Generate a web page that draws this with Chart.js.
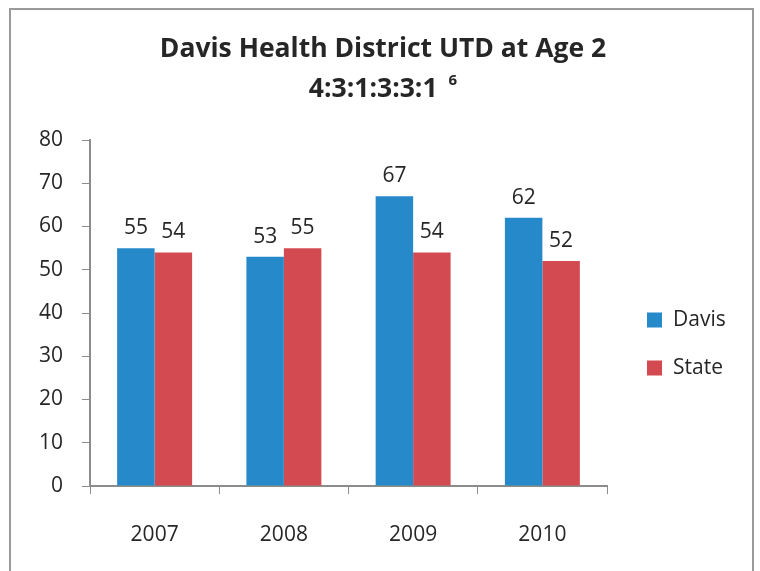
<!DOCTYPE html>
<html>
<head>
<meta charset="utf-8">
<script src="https://cdn.jsdelivr.net/npm/chart.js@4/dist/chart.umd.min.js"></script>
<style>
  html, body { margin: 0; padding: 0; background: #fff; overflow: hidden; }
  #wrap { position: relative; width: 760px; height: 571px; }
  #frame { position: absolute; left: 9px; top: 8px; width: 741px; height: 600px; border: 2px solid #9a9a9a; box-sizing: content-box; pointer-events: none; }
  canvas { position: absolute; left: 0; top: 0; }
</style>
</head>
<body>
<div id="wrap">
  <canvas id="c" width="760" height="571"></canvas>
  <div id="frame"></div>
</div>
<script>
const categories = ["2007", "2008", "2009", "2010"];
const davisValues = [55, 53, 67, 62];
const stateValues = [54, 55, 54, 52];
const seriesNames = ["Davis", "State"];
const titleLine1 = "Davis Health District UTD at Age 2";
const titleLine2 = "4:3:1:3:3:1";
const titleSup = "6";
const yTicks = [0, 10, 20, 30, 40, 50, 60, 70, 80];

const FONT = "'Open Sans', Lato, sans-serif";
const TEXT = "#262626";
const AXIS = "#8c8c8c";

const titlePlugin = {
  id: "titlePlugin",
  afterDraw(chart) {
    const ctx = chart.ctx;
    const cx = 383;
    ctx.save();
    ctx.fillStyle = TEXT;
    ctx.textBaseline = "middle";
    ctx.textAlign = "left";
    ctx.font = "bold 26.5px " + FONT;
    const w1 = ctx.measureText(titleLine1).width;
    ctx.fillText(titleLine1, cx - w1 / 2, 49);
    const w2 = ctx.measureText(titleLine2).width;
    ctx.font = "bold 15px " + FONT;
    const ws = ctx.measureText(titleSup).width;
    const gap = 11;
    const start = cx - (w2 + gap + ws) / 2;
    ctx.font = "bold 26.5px " + FONT;
    ctx.fillText(titleLine2, start, 89);
    ctx.font = "bold 15px " + FONT;
    ctx.fillText(titleSup, start + w2 + gap, 81);
    ctx.restore();
  }
};

const dataLabels = {
  id: "dataLabels",
  afterDatasetsDraw(chart) {
    const ctx = chart.ctx;
    ctx.save();
    ctx.font = "21px " + FONT;
    ctx.fillStyle = TEXT;
    ctx.textAlign = "center";
    ctx.textBaseline = "alphabetic";
    chart.data.datasets.forEach((ds, i) => {
      const meta = chart.getDatasetMeta(i);
      meta.data.forEach((el, j) => {
        ctx.fillText(String(ds.data[j]), el.x, el.y - 14);
      });
    });
    ctx.restore();
  }
};

const sideLegend = {
  id: "sideLegend",
  afterDraw(chart) {
    const ctx = chart.ctx;
    ctx.save();
    ctx.font = "21px " + FONT;
    ctx.textBaseline = "middle";
    ctx.textAlign = "left";
    chart.data.datasets.forEach((ds, i) => {
      const cy = 320 + i * 48;
      ctx.fillStyle = ds.backgroundColor;
      ctx.fillRect(647, cy - 7.5, 15, 15);
      ctx.fillStyle = TEXT;
      ctx.fillText(ds.label, 673, cy);
    });
    ctx.restore();
  }
};

new Chart(document.getElementById("c"), {
  type: "bar",
  data: {
    labels: categories,
    datasets: [
      { label: seriesNames[0], data: davisValues, backgroundColor: "#268aca", borderWidth: 0 },
      { label: seriesNames[1], data: stateValues, backgroundColor: "#d34b50", borderWidth: 0 }
    ]
  },
  options: {
    responsive: false,
    animation: false,
    devicePixelRatio: 1,
    layout: { padding: { top: 140, left: 30, right: 153, bottom: 0 } },
    datasets: { bar: { categoryPercentage: 0.58, barPercentage: 1.0 } },
    plugins: {
      legend: { display: false },
      tooltip: { enabled: false },
      title: { display: false }
    },
    scales: {
      x: {
        grid: { display: true, drawOnChartArea: false, drawTicks: true, tickLength: 8, color: AXIS, offset: true },
        border: { display: true, color: AXIS, width: 2 },
        ticks: { color: TEXT, font: { family: FONT, size: 21 }, padding: 28 },
        afterFit(scale) { scale.height = 85; }
      },
      y: {
        min: 0, max: 80,
        afterBuildTicks(scale) { scale.ticks = yTicks.map(v => ({ value: v })); },
        grid: { display: true, drawOnChartArea: false, drawTicks: true, tickLength: 8, color: AXIS },
        border: { display: true, color: AXIS, width: 2 },
        ticks: { color: TEXT, font: { family: FONT, size: 21 }, padding: 19 },
        afterFit(scale) { scale.width = 60; }
      }
    }
  },
  plugins: [dataLabels, sideLegend, titlePlugin]
});
</script>
</body>
</html>
